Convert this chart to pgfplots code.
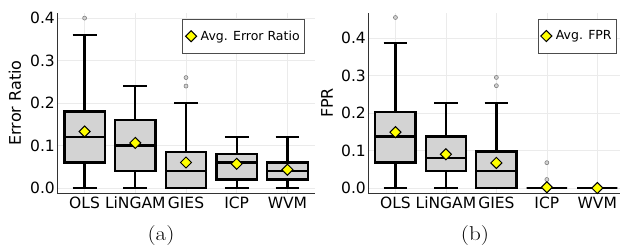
\documentclass[border=0pt]{standalone}
\usepackage{fontspec}
\usepackage{pgfplots}
\pgfplotsset{compat=1.18}
\usepgfplotslibrary{statistics}
\newfontfamily\dejavu{DejaVu Sans}
\definecolor{boxgray}{HTML}{D3D3D3}
\definecolor{meanyellow}{HTML}{FFFF00}
\pgfplotsset{
  mybox/.style={
    boxplot/draw direction=y,
    boxplot/box extend=0.8,
    boxplot/whisker extend=0.47,
    draw=black, fill=boxgray, line width=2.4pt,
    mark=*, mark size=2pt,
    mark options={fill=gray!35, draw=gray, line width=0.6pt, solid},
    forget plot,
  },
  common/.style={
    scale only axis, anchor=south west,
    height=180pt,
    axis lines*=left,
    axis line style={black!80, line width=0.7pt, -},
    grid=major,
    grid style={black!8, line width=0.5pt},
    major tick length=0pt,
    xtick={1,2,3,4,5},
    xticklabels={OLS,LiNGAM,GIES,ICP,WVM},
    ytick={0,0.1,0.2,0.3,0.4},
    yticklabel style={/pgf/number format/.cd, fixed, fixed zerofill, precision=1, /tikz/.cd},
    /pgf/number format/assume math mode=true,
    ticklabel style={font=\dejavu\fontsize{15.5}{15.5}\selectfont},
    yticklabel style={inner sep=1pt, xshift=-1pt},
    xticklabel style={inner sep=1pt, yshift=-3pt},
    ylabel style={font=\dejavu\fontsize{16}{16}\selectfont, anchor=center},
    xmin=0.456,
    legend style={draw=black!70, line width=0.6pt, fill=white,
      font=\dejavu\fontsize{12.5}{12.5}\selectfont, inner xsep=3pt, inner ysep=9.5pt,
      legend cell align=left, anchor=north east,
      /tikz/every odd column/.append style={column sep=2pt},
      nodes={inner xsep=2pt}},
    legend image code/.code={\path (-0.15cm,0cm) -- (0.15cm,0cm); \draw plot coordinates {(0cm,0cm)};},
  },
  meanstyle/.style={only marks, mark=square*, mark size=3.9pt,
    mark options={rotate=45, fill=meanyellow, draw=black, line width=1pt}},
}
\begin{document}
\begin{tikzpicture}[x=1pt,y=1pt]
\useasboundingbox (0,0) rectangle (621,247);
% ---------------- (a) Error Ratio
\begin{axis}[common, at={(57pt,54pt)}, width=258pt,
  xmax=5.544, ymin=-0.0118, ymax=0.412,
  ylabel={Error Ratio}, ylabel style={at={(axis description cs:-0.163,0.5)}},
  legend style={at={(0.961,0.967)}}]
\addplot[mybox, boxplot prepared={draw position=1, lower whisker=0, lower quartile=0.06, median=0.12, upper quartile=0.18, upper whisker=0.36}] coordinates {(0,0.40)};
\addplot[mybox, boxplot prepared={draw position=2, lower whisker=0, lower quartile=0.04, median=0.10, upper quartile=0.16, upper whisker=0.24}] coordinates {};
\addplot[mybox, boxplot prepared={draw position=3, lower whisker=0, lower quartile=0, median=0.04, upper quartile=0.085, upper whisker=0.20}] coordinates {(0,0.24) (0,0.26)};
\addplot[mybox, boxplot prepared={draw position=4, lower whisker=0, lower quartile=0.02, median=0.06, upper quartile=0.08, upper whisker=0.12}] coordinates {};
\addplot[mybox, boxplot prepared={draw position=5, lower whisker=0, lower quartile=0.02, median=0.04, upper quartile=0.06, upper whisker=0.12}] coordinates {};
\addplot[meanstyle] coordinates {(1,0.133) (2,0.106) (3,0.060) (4,0.057) (5,0.043)};
\addlegendentry{Avg. Error Ratio}
\end{axis}
% ---------------- (b) FPR
\begin{axis}[common, at={(368pt,54pt)}, width=252pt,
  xmax=5.45, ymin=-0.0133, ymax=0.467,
  ylabel={FPR}, ylabel style={at={(axis description cs:-0.163,0.5)}},
  legend style={at={(0.988,0.967)}}]
\addplot[mybox, boxplot prepared={draw position=1, lower whisker=0, lower quartile=0.0676, median=0.137, upper quartile=0.203, upper whisker=0.387}] coordinates {(0,0.455)};
\addplot[mybox, boxplot prepared={draw position=2, lower whisker=0, lower quartile=0.045, median=0.08, upper quartile=0.137, upper whisker=0.227}] coordinates {};
\addplot[mybox, boxplot prepared={draw position=3, lower whisker=0, lower quartile=0, median=0.045, upper quartile=0.097, upper whisker=0.227}] coordinates {(0,0.273) (0,0.295)};
\addplot[mybox, boxplot prepared={draw position=4, lower whisker=0, lower quartile=0, median=0, upper quartile=0, upper whisker=0}] coordinates {(0,0.0227) (0,0.0676)};
\addplot[mybox, boxplot prepared={draw position=5, lower whisker=0, lower quartile=0, median=0, upper quartile=0, upper whisker=0}] coordinates {};
\addplot[meanstyle] coordinates {(1,0.149) (2,0.090) (3,0.067) (4,0.002) (5,0.0)};
\addlegendentry{Avg. FPR}
\end{axis}
\node[font=\fontsize{20}{20}\selectfont, xscale=1.15] at (161,11) {(a)};
\node[font=\fontsize{20}{20}\selectfont, xscale=1.15] at (475,11) {(b)};
\end{tikzpicture}
\end{document}
